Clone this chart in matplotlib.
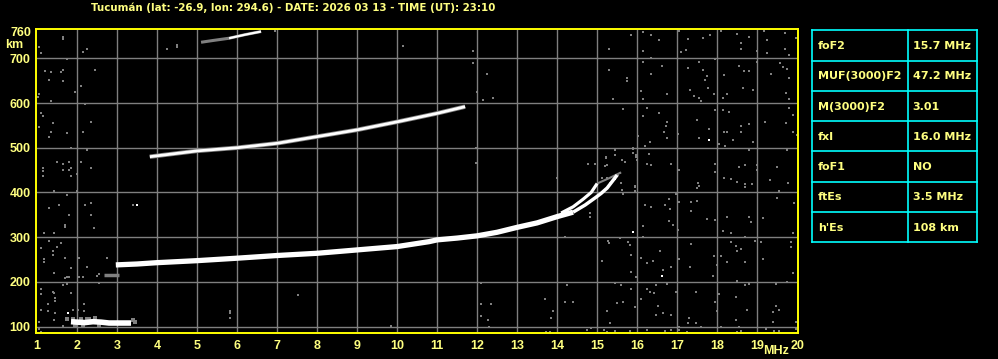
# Tucuman ionogram, 2026-03-13 23:10 UT
import matplotlib
matplotlib.use('Agg')
import matplotlib.pyplot as plt

# ---- data ----
title = 'Tucumán (lat: -26.9, lon: 294.6) - DATE: 2026 03 13 - TIME (UT): 23:10'

x_ticks = list(range(1, 21))
y_ticks = [100, 200, 300, 400, 500, 600, 700]

# F layer trace (first hop)
f_trace_f = [2.97, 3.5, 4, 5, 6, 7, 8, 9, 10, 10.8, 11, 11.5, 12, 12.5, 13, 13.5, 14, 14.4]
f_trace_h = [238, 240, 243, 247.5, 253, 259, 264, 271.5, 279, 290, 294, 298, 303, 311, 322, 332, 346, 356]
f_tail_f = [14.4, 14.7, 14.95, 15.1, 15.25, 15.5]
f_tail_h = [356, 372, 388, 398, 410, 439]
# second branch near the critical frequency
branch_f = [14.1, 14.4, 14.65, 14.85, 15.0]
branch_h = [354, 368, 385, 400, 420]
branch_gray_f = [15.0, 15.3, 15.6]
branch_gray_h = [420, 432, 445]

# second hop
hop2_f = [3.82, 4, 5, 6, 7, 8, 9, 10, 11, 11.7]
hop2_h = [480, 482, 493, 500, 510, 525, 540, 558, 577, 592]
# third hop
hop3_f = [5.1, 5.4, 5.8, 6.2, 6.6]
hop3_h = [736, 740, 745, 753, 760]

# sporadic E
es_f = [1.85, 2.0, 2.2, 2.4, 2.6, 2.8, 3.0, 3.2, 3.35]
es_h = [111, 110, 109, 111, 110, 108, 108, 108, 108]
es_gray_f = [1.75, 1.9, 2.1, 2.15, 2.3, 2.45, 2.55, 3.4, 3.45, 1.95, 2.25]
es_gray_h = [118, 117, 116, 104, 118, 120, 102, 114, 110, 104, 118]
# small fragment below the F trace
frag_f = [2.68, 3.06]
frag_h = [215, 215]

# background noise (gray speckles)
noise_f = [
    15.85, 16.15, 16.35, 16.55, 17.04, 17.26, 17.65, 17.83, 18.1, 18.5, 18.8, 19.16, 19.25, 19.7, 19.98,
    15.29, 16.15, 16.35, 17.1, 17.23, 18.6, 18.6, 19.0, 19.25, 19.7, 19.8, 16.15, 16.62, 17.26, 17.55,
    17.65, 17.7, 17.75, 17.95, 18.16, 18.55, 18.66, 18.8, 19.0, 19.35, 19.58, 19.65, 19.75, 19.79, 15.75,
    15.75, 15.29, 16.35, 16.1, 16.75, 17.31, 17.41, 17.55, 17.6, 17.76, 17.91, 18.15, 18.25, 18.65, 18.9,
    19.71, 19.8, 15.4, 16.15, 15.65, 16.15, 16.25, 16.55, 16.75, 16.71, 16.68, 16.75, 16.01, 16.31, 16.2,
    17.01, 17.5, 17.8, 17.55, 17.95, 18.15, 18.3, 18.16, 18.25, 18.4, 18.6, 18.6, 18.8, 18.9, 19.2,
    19.71, 19.8, 19.9, 19.9, 20.0, 18.05, 18.2, 15.45, 15.9, 15.9, 15.98, 15.21, 15.45, 15.7, 15.25,
    16.0, 16.3, 16.25, 16.35, 16.85, 17.05, 17.95, 17.95, 18.55, 18.7, 18.8, 19.0, 19.0, 19.5, 19.75,
    18.16, 18.35, 18.5, 18.7, 18.86, 19.31, 19.76, 17.51, 17.55, 15.25, 15.6, 15.95, 15.51,
    15.95, 15.95, 15.65, 16.2, 16.35, 16.7, 16.79, 16.81, 16.96, 17.05, 16.8, 16.9, 17.01, 16.15, 16.15,
    17.35, 17.35, 17.5, 17.5, 17.75, 17.95, 18.25, 18.15, 18.35, 18.7, 18.7, 18.8, 18.85, 19.15, 19.55,
    19.5, 19.91, 19.9, 15.29, 15.83, 15.85, 16.1, 16.25, 16.4, 16.56, 16.65, 16.85, 17.05, 17.35, 17.31,
    17.91, 17.99, 17.9, 18.1, 18.25, 18.35, 18.46, 18.5, 18.6, 18.7, 18.95, 19.1, 19.15, 19.85, 19.85,
    19.9, 15.11, 15.85, 15.96, 15.45, 15.6, 15.85, 16.25, 16.31, 16.41, 16.46, 16.75, 16.96, 17.46, 16.1,
    15.5, 15.65, 15.95, 16.51, 16.46, 16.65, 16.85, 15.25, 15.31, 17.95, 17.99, 18.04, 18.46, 18.5, 18.7,
    18.8, 18.75, 18.46, 18.55, 19.4, 19.4, 19.46, 19.55, 19.75, 19.46, 19.96, 17.29, 17.26, 17.46, 17.6,
    17.05, 15.16, 15.25, 15.45, 15.83, 16.25, 16.7, 16.85, 17.05, 17.25, 18.1, 18.5, 18.6, 19.23, 19.41,
    19.55, 19.96,
    1.1, 1.14, 1.39, 1.04, 1.35, 1.74, 2.14, 2.35, 1.29, 2.21, 1.85, 2.24, 1.49, 1.64, 1.79, 2.1, 1.14,
    1.14, 1.14, 1.64, 1.79, 1.85, 1.85, 1.99, 2.35, 1.43, 1.99, 1.74, 1.29, 1.54, 1.79, 2.21, 2.35, 2.35,
    1.69, 1.69, 2.43, 1.18, 1.43, 1.29, 1.49, 1.6, 1.1, 1.39, 1.39, 1.18, 1.18, 1.69, 2.04, 2.74,
    1.85, 1.43, 1.74, 1.79, 1.71, 2.04, 2.14, 2.49, 2.56, 2.24, 2.54, 1.66, 1.74, 1.1, 1.39, 1.43, 1.1,
    1.85, 1.44, 1.44, 1.27, 1.1, 1.27, 1.44, 1.89, 2.02, 2.18, 2.18, 1.04, 1.43, 1.64, 1.04, 1.1,
    1.04, 1.09, 1.64, 1.64, 2.14, 2.24, 1.74, 1.2, 1.34, 1.59, 1.64, 1.31, 1.64, 2.45, 2.09, 1.95, 2.2,
    1.34, 1.04, 1.02, 4.24, 4.49, 6.95, 10.15, 11.9, 11.9, 12.24, 11.99, 12.15, 12.39,
    5.83, 5.83, 5.83, 7.53, 9.84, 2.55, 12.09, 12.09, 12.34, 12.09, 12.26, 12.3,
    13.7, 13.89, 13.84, 14.24, 14.2, 14.4, 13.73, 13.83, 14.74, 14.85,
    14.78, 14.95, 15.23, 15.45, 15.9, 15.98, 15.63, 15.2, 15.12, 15.32, 15.57, 15.5, 15.62, 14.82,
    14.83, 15.27, 15.57, 15.78, 14.2, 14.0, 11.98, 11.96, 4.5, 3.4,
]
noise_h = [
    753, 760, 753, 742, 762, 744, 745, 753, 762, 754, 748, 762, 740, 757, 745,
    722, 717, 701, 714, 719, 734, 722, 717, 712, 722, 708, 692, 684, 678, 692,
    674, 652, 660, 699, 662, 684, 671, 671, 692, 665, 690, 680, 677, 656, 656,
    649, 675, 665, 626, 620, 630, 615, 611, 605, 634, 620, 611, 620, 634, 630,
    622, 608, 608, 608, 587, 570, 589, 578, 558, 549, 535, 522, 526, 513, 503,
    531, 563, 543, 522, 585, 585, 580, 535, 535, 518, 548, 535, 553, 513, 558,
    555, 589, 574, 535, 528, 508, 503, 494, 498, 488, 483, 477, 483, 468, 461,
    473, 486, 464, 461, 464, 451, 464, 446, 456, 461, 494, 461, 451, 456, 494,
    432, 431, 423, 418, 419, 427, 421, 421, 414, 432, 421, 414, 440,
    413, 403, 396, 371, 368, 372, 386, 363, 396, 378, 336, 327, 316, 324, 301,
    378, 359, 411, 381, 341, 339, 346, 314, 309, 413, 301, 346, 335, 342, 403,
    387, 376, 309, 286, 283, 260, 254, 242, 247, 269, 227, 234, 251, 284, 234,
    257, 238, 214, 257, 244, 289, 281, 269, 274, 244, 292, 289, 251, 289, 278,
    221, 247, 222, 210, 197, 193, 184, 184, 177, 175, 193, 195, 177, 177, 162,
    152, 156, 143, 147, 126, 130, 125, 134, 108, 156, 134, 172, 167, 201, 193,
    195, 137, 115, 100, 132, 111, 147, 137, 199, 195, 111, 120, 108, 108, 100,
    100, 93, 89, 90, 90, 93, 90, 93, 93, 89, 100, 89, 90, 95, 90,
    90, 95,
    578, 570, 556, 546, 536, 532, 536, 558, 523, 598, 499, 495, 469, 464, 469, 469, 454,
    447, 437, 450, 450, 454, 437, 441, 454, 404, 404, 394, 365, 372, 350, 372, 377, 350,
    327, 322, 320, 310, 310, 292, 279, 288, 275, 268, 260, 251, 245, 253, 253, 253,
    231, 221, 212, 212, 208, 212, 212, 213, 218, 234, 198, 193, 195, 184, 178, 175, 173,
    176, 163, 158, 151, 137, 134, 130, 137, 137, 151, 134, 111, 115, 101, 94, 89,
    726, 711, 748, 744, 715, 722, 698, 672, 670, 670, 673, 652, 649, 674, 638, 625, 598,
    605, 620, 614, 720, 725, 762, 727, 717, 690, 665, 625, 607, 612,
    135, 130, 120, 171, 102, 198, 198, 150, 150, 124, 115, 98,
    162, 134, 120, 193, 156, 156, 89, 89, 93, 96,
    464, 464, 479, 484, 500, 480, 472, 460, 432, 422, 443, 436, 405, 355,
    346, 292, 299, 290, 300, 432, 465, 500, 730, 372,
]
# a few isolated bright echoes
spot_f = [17.8, 16.62, 15.9, 15.45, 1.77, 3.5]
spot_h = [518, 214, 312, 431, 130, 372]

# scaled parameters table
param_names = ['foF2', 'MUF(3000)F2', 'M(3000)F2', 'fxI', 'foF1', 'ftEs', "h'Es"]
param_values = ['15.7 MHz', '47.2 MHz', '3.01', '16.0 MHz', 'NO', '3.5 MHz', '108 km']

# ---- style ----
W, H = 998, 359
txt = '#ffff80'
grid_c = '#7f7f7f'
font = ['Liberation Sans', 'DejaVu Sans']
wide = ['DejaVu Sans']

fig = plt.figure(figsize=(W / 100, H / 100), dpi=100, facecolor='black')
ax = fig.add_axes([36 / W, 1 - 333.3 / H, (798 - 36) / W, (333.3 - 29.3) / H])
ax.set_facecolor('black')
ax.set_xlim(0.975, 20.02)
ax.set_ylim(85, 765)

for xv in x_ticks[1:-1]:
    ax.axvline(xv, color=grid_c, lw=1.0, zorder=1)
for yv in y_ticks:
    ax.axhline(yv, color=grid_c, lw=1.0, zorder=1)

ms = 2.0
ax.plot(noise_f, noise_h, 's', color='#808080', ms=ms, mew=0, zorder=2)
ax.plot(spot_f, spot_h, 's', color='white', ms=ms, mew=0, zorder=3)

# traces
ax.plot(es_gray_f, es_gray_h, 's', color='#808080', ms=3, mew=0, zorder=3)
ax.plot(es_f, es_h, color='white', lw=4.0, solid_capstyle='butt', zorder=4)
ax.plot(frag_f, frag_h, color='#808080', lw=2.5, solid_capstyle='butt', zorder=3)
ax.plot(f_trace_f, f_trace_h, color='white', lw=3.8, solid_capstyle='butt', zorder=4)
ax.plot(f_tail_f, f_tail_h, color='white', lw=2.5, solid_capstyle='butt', zorder=4)
ax.plot(branch_f, branch_h, color='white', lw=2.3, solid_capstyle='butt', zorder=4)
ax.plot(branch_gray_f, branch_gray_h, color='#808080', lw=1.5, solid_capstyle='butt', zorder=3)
ax.plot(hop2_f, hop2_h, color='#808080', lw=3.2, solid_capstyle='butt', zorder=3)
ax.plot(hop2_f, hop2_h, color='white', lw=2.0, solid_capstyle='butt', zorder=4)
ax.plot(hop3_f, hop3_h, color='#808080', lw=2.2, solid_capstyle='butt', zorder=3)
ax.plot(hop3_f[2:], hop3_h[2:], color='white', lw=1.6, solid_capstyle='butt', zorder=4)

for s in ax.spines.values():
    s.set_color('#ffff00')
    s.set_linewidth(1.4)
    s.set_zorder(6)

ax.set_xticks(x_ticks)
ax.set_xticklabels([str(v) for v in x_ticks])
ax.set_yticks(y_ticks)
ax.set_yticklabels([str(v) for v in y_ticks])
ax.set_yticks([760], labels=['760'], minor=True)
ax.tick_params(axis='both', which='both', length=0, colors=txt, labelsize=9)
ax.tick_params(axis='x', pad=5)
ax.tick_params(axis='y', pad=4)
for lab in ax.get_xticklabels() + ax.get_yticklabels() + ax.get_yticklabels(minor=True):
    lab.set_fontfamily(font)
    lab.set_fontweight('bold')

fig.text(14 / W, 1 - 45 / H, 'km', color=txt, fontsize=9, fontweight='bold',
         family=font, ha='center', va='center')
fig.text(776 / W, 1 - 351 / H, 'MHz', color=txt, fontsize=9, fontweight='bold',
         family=font, ha='center', va='center')
fig.text(293 / W, 1 - 7.5 / H, title, color=txt, fontsize=7.4, fontweight='bold',
         family=wide, ha='center', va='center')

# parameters table
tx = fig.add_axes([812 / W, 1 - 242.3 / H, (977 - 812) / W, (242.3 - 30.3) / H])
tx.set_facecolor('black')
tx.set_xlim(0, 1)
tx.set_ylim(len(param_names), 0)
tx.axis('off')
cyan = '#00ffff'
for i in range(len(param_names) + 1):
    tx.plot([0, 1], [i, i], color=cyan, lw=1.2, clip_on=False)
tx.plot([0, 0], [0, len(param_names)], color=cyan, lw=1.2, clip_on=False)
tx.plot([1, 1], [0, len(param_names)], color=cyan, lw=1.2, clip_on=False)
tx.plot([0.58, 0.58], [0, len(param_names)], color=cyan, lw=1.2, clip_on=False)
for i, (name, val) in enumerate(zip(param_names, param_values)):
    tx.text(0.035, i + 0.52, name, color=txt, fontsize=8.0, fontweight='bold',
            family=wide, ha='left', va='center')
    tx.text(0.61, i + 0.52, val, color=txt, fontsize=8.0, fontweight='bold',
            family=wide, ha='left', va='center')

fig.savefig('out.png', dpi=100, facecolor='black')
